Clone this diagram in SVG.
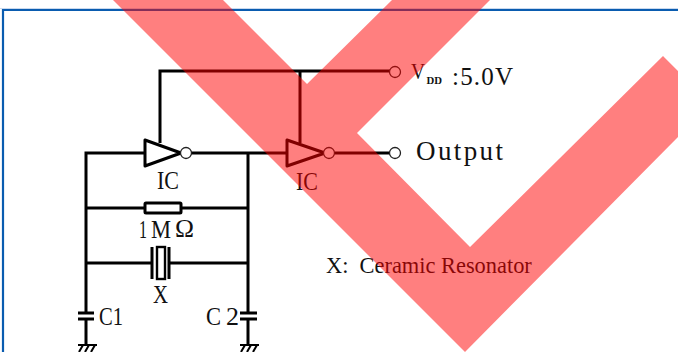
<svg xmlns="http://www.w3.org/2000/svg" width="678" height="352" viewBox="0 0 678 352">
<style>
.w{fill:none;stroke:#000;stroke-width:3}
.t{fill:none;stroke:#000;stroke-width:3;stroke-linejoin:round}
.o{fill:#fff;stroke:#222;stroke-width:1.3}
.s{font-family:"Liberation Serif",serif;fill:#111}
.b{font-size:26px}
</style>
<rect width="678" height="352" fill="#fff"/>
<g id="frame">
<path d="M0 8.5H678" stroke="#c9d9ee" stroke-width="1" fill="none"/>
<path d="M3 352V10H678" stroke="#0a5cb0" stroke-width="2.2" fill="none"/>
</g>
<g id="connectors">
<path class="w" d="M145 153H86V313M86 319V344"/>
<path class="w" d="M191 153H287M248 153V313M248 319V344"/>
<path class="w" d="M86 208H145M181 208H248"/>
<path class="w" d="M86 263H152M169 263H248"/>
<path class="w" d="M160 143V71H390M300 71V143"/>
<path class="w" d="M335 153H390"/>
</g>
<g id="inverter1"><path class="t" d="M145 140V166L181 153Z"/><circle class="o" cx="186" cy="153" r="5.5"/><text class="s b" x="157" y="189" textLength="22" lengthAdjust="spacingAndGlyphs">IC</text></g>
<g id="inverter2"><path class="t" d="M287 140V166L325 153Z"/><circle class="o" cx="329" cy="153" r="5.5"/><text class="s b" x="296" y="190" textLength="22" lengthAdjust="spacingAndGlyphs">IC</text></g>
<g id="resistor"><rect x="145" y="203" width="36" height="10" rx="1" fill="#fff" stroke="#000" stroke-width="3"/><text class="s b" x="139" y="238" textLength="8" lengthAdjust="spacingAndGlyphs">1</text><text class="s b" x="151" y="238" textLength="20" lengthAdjust="spacingAndGlyphs">M</text><text class="s b" x="175" y="237" textLength="19" lengthAdjust="spacingAndGlyphs">Ω</text></g>
<g id="resonator"><path class="w" d="M152 247V279M169 247V279"/><rect x="157" y="247" width="8" height="32" fill="#fff" stroke="#000" stroke-width="2.4"/><text class="s b" x="153" y="303" textLength="15" lengthAdjust="spacingAndGlyphs">X</text></g>
<g id="c1"><path class="w" d="M78 313H94M78 319H94"/><text class="s b" x="99" y="325" textLength="24" lengthAdjust="spacingAndGlyphs">C1</text></g>
<g id="c2"><path class="w" d="M240 313H257M240 319H257"/><text class="s b" x="206" y="325" textLength="15" lengthAdjust="spacingAndGlyphs">C</text><text class="s b" x="226" y="325" textLength="13" lengthAdjust="spacingAndGlyphs">2</text></g>
<g id="gnd1"><path d="M78 345H97M83 345L79 352M89 345L85 352M95 345L91 352" fill="none" stroke="#000" stroke-width="2"/></g>
<g id="gnd2"><path d="M240 345H259M245 345L241 352M251 345L247 352M257 345L253 352" fill="none" stroke="#000" stroke-width="2"/></g>
<g id="vdd"><circle class="o" cx="395" cy="72" r="5.5"/><text class="s" x="411" y="79" font-size="24" textLength="14" lengthAdjust="spacingAndGlyphs">V</text><text class="s" x="426.5" y="84" font-size="11" font-weight="bold" textLength="15.5" lengthAdjust="spacingAndGlyphs">DD</text><text class="s" x="452" y="85" font-size="25" textLength="61">:5.0V</text></g>
<g id="output"><circle class="o" cx="395" cy="153" r="5.5"/><text class="s" x="416" y="160" font-size="27" textLength="87">Output</text></g>
<text id="note" class="s" x="326" y="273" font-size="22.4" xml:space="preserve">X:  Ceramic Resonator</text>
<path id="mark" d="M113 0H223L307 84L392 0H490L357 133L470 247L663 56L678 71V137L465 352Z" fill="#f00" fill-opacity=".5"/>
</svg>
